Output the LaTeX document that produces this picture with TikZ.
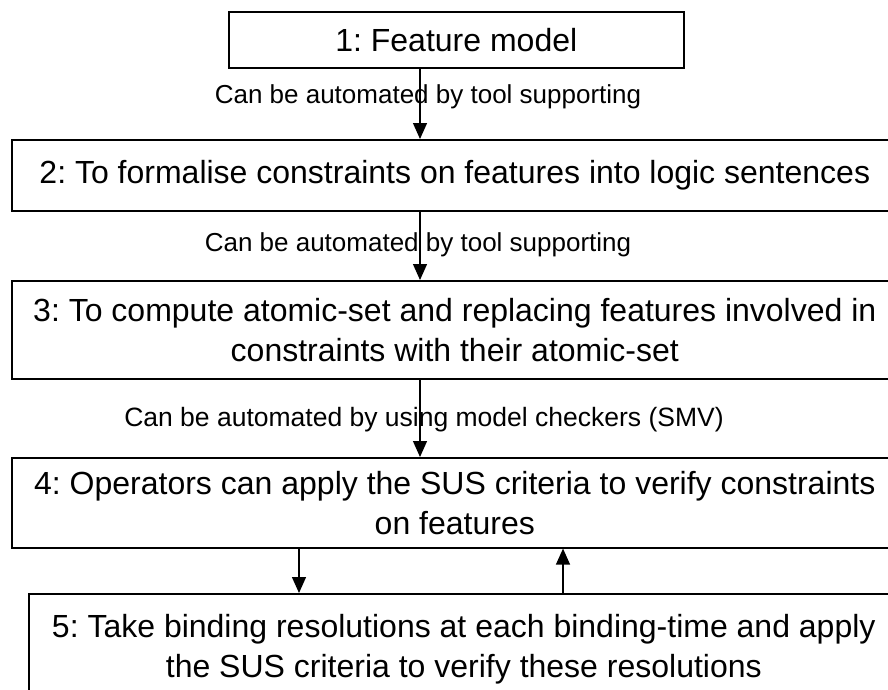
\documentclass[tikz,border=0pt]{standalone}
\usepackage{fontspec}
\setmainfont{Liberation Sans}
\usetikzlibrary{arrows.meta}
\begin{document}
\frenchspacing
\begin{tikzpicture}[x=1pt,y=-1pt,
  stepbox/.style={draw,line width=1.6pt,inner sep=0pt,anchor=north west,align=center,
    font=\fontsize{32}{40}\selectfont},
  lbl/.style={inner sep=0pt,font=\fontsize{26}{30}\selectfont},
  arr/.style={line width=1.3pt,-{Triangle[length=16pt,width=14pt]}}]
\useasboundingbox (0,0) rectangle (888,689);
\clip (0,0) rectangle (888,689);
\node[stepbox,minimum width=455pt,minimum height=56pt] (b1) at (228,11) {1: Feature model};
\node[stepbox,minimum width=886pt,minimum height=71pt] (b2) at (11,139) {2: To formalise constraints on features into logic sentences};
\node[stepbox,minimum width=886pt,minimum height=98pt] (b3) at (11,280) {3: To compute atomic-set and replacing features involved in\\constraints with their atomic-set};
\node[stepbox,minimum width=886pt,minimum height=90pt] (b4) at (11,457) {4: Operators can apply the SUS criteria to verify constraints\\on features};
\node[stepbox,minimum width=870pt,minimum height=110pt] (b5) at (28,593) {5: Take binding resolutions at each binding-time and apply\\the SUS criteria to verify these resolutions};
\coordinate (ax) at (420,0);
\coordinate (al) at (299,0);
\coordinate (ar) at (563,0);
\node[lbl] (l1) at (428,97) {Can be automated by tool supporting};
\node[lbl] (l2) at (418,245) {Can be automated by tool supporting};
\node[lbl,font=\fontsize{26.5}{30}\selectfont] (l3) at (424,420) {Can be automated by using model checkers (SMV)};
\draw[arr] (ax |- b1.south) -- (ax |- b2.north);
\draw[arr] (ax |- b2.south) -- (ax |- b3.north);
\draw[arr] (ax |- b3.south) -- (ax |- b4.north);
\draw[arr] (al |- b4.south) -- (al |- b5.north);
\draw[arr] (ar |- b5.north) -- (ar |- b4.south);
\end{tikzpicture}
\end{document}
